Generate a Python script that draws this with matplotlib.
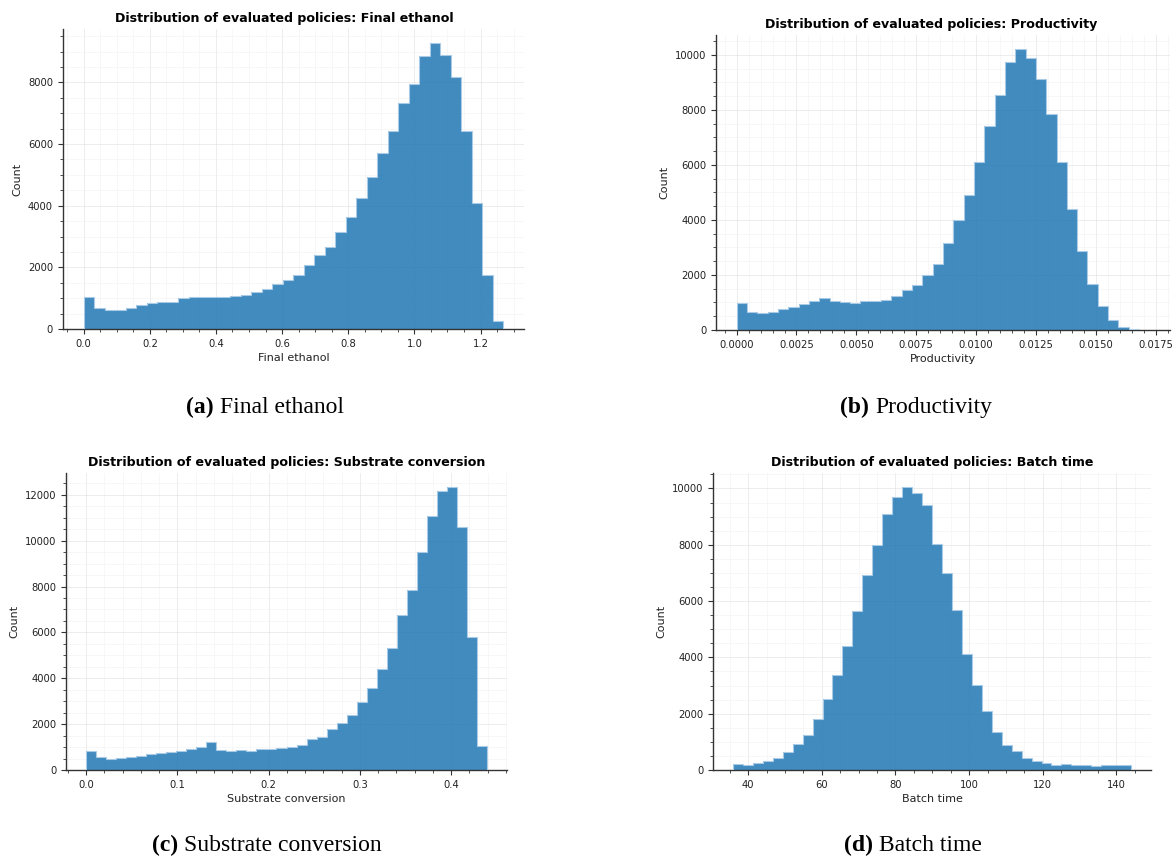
import matplotlib
matplotlib.use("Agg")
import matplotlib.pyplot as plt
import numpy as np

# Bin counts (40 bins each)
ethanol_range = (0.0, 1.268)
ethanol_counts = [1040, 672, 629, 629, 672, 780, 845, 867, 889, 1019,
                  1051, 1051, 1030, 1050, 1084, 1117, 1203, 1290, 1463, 1593,
                  1767, 2081, 2396, 2656, 3154, 3631, 4260, 4943, 5702, 6417,
                  7328, 7946, 8856, 9268, 8889, 8173, 6417, 4076, 1767, 249]

productivity_range = (0.0, 0.01724)
productivity_counts = [972, 656, 620, 668, 753, 838, 936, 1045, 1154, 1057,
                       1033, 996, 1045, 1057, 1081, 1239, 1470, 1628, 1993, 2406,
                       3147, 4010, 4897, 6087, 7400, 8530, 9720, 10207, 9866, 9113,
                       7861, 6112, 4399, 2880, 1677, 875, 352, 122, 25, 10]

conversion_range = (0.0, 0.4392)
conversion_counts = [846, 554, 467, 510, 554, 612, 700, 729, 787, 831,
                     933, 992, 1225, 890, 846, 875, 846, 904, 919, 977,
                     992, 1108, 1342, 1458, 1808, 2071, 2406, 2960, 3558, 4389,
                     5322, 6780, 7830, 9522, 11097, 12176, 12336, 10601, 5818, 1050]

batch_range = (35.84, 144.0)
batch_counts = [214, 190, 238, 309, 428, 630, 916, 1237, 1807, 2533,
                3365, 4388, 5660, 6932, 8002, 9084, 9703, 10048, 9845, 9405,
                8038, 7004, 5696, 4114, 3020, 2093, 1367, 904, 666, 416,
                309, 250, 190, 202, 166, 166, 143, 166, 178, 166]

PANELS = [
    {"name": "Final ethanol", "tag": "(a)", "range": ethanol_range, "counts": ethanol_counts,
     "rect": (62.7, 29, 524, 329), "caption": (265, 413), "title_x": 0.48},
    {"name": "Productivity", "tag": "(b)", "range": productivity_range, "counts": productivity_counts,
     "rect": (716, 35, 1170, 330), "caption": (916, 413), "title_x": 0.474},
    {"name": "Substrate conversion", "tag": "(c)", "range": conversion_range, "counts": conversion_counts,
     "rect": (66, 473, 507, 770), "caption": (267, 851), "title_x": 0.5},
    {"name": "Batch time", "tag": "(d)", "range": batch_range, "counts": batch_counts,
     "rect": (713, 473, 1151, 770), "caption": (913, 851), "title_x": 0.5},
]

W, H = 1174, 856
fig = plt.figure(figsize=(W / 100, H / 100), dpi=100)
renderer = fig.canvas.get_renderer()

for p in PANELS:
    x0, y0, x1, y1 = p["rect"]
    ax = fig.add_axes([x0 / W, 1 - y1 / H, (x1 - x0) / W, (y1 - y0) / H])
    counts = np.array(p["counts"])
    edges = np.linspace(p["range"][0], p["range"][1], len(counts) + 1)
    # filled histogram + light step outline
    ax.stairs(counts, edges, fill=True, color="#1f77b4", alpha=0.85, linewidth=0, zorder=2)
    ax.stairs(counts, edges, color="#a9cbe6", linewidth=0.8, zorder=3)
    ax.set_ylim(0, max(counts) * 1.05)

    ax.minorticks_on()
    ax.grid(True, which="major", color="#dddddd", linewidth=0.6, alpha=0.6, zorder=0)
    ax.grid(True, which="minor", color="#eeeeee", linewidth=0.5, alpha=0.6, zorder=0)
    ax.set_axisbelow(True)
    for side in ["top", "right"]:
        ax.spines[side].set_visible(False)
    for side in ["left", "bottom"]:
        ax.spines[side].set_color("#333333")
        ax.spines[side].set_linewidth(1.0)
    ax.tick_params(which="major", length=3.5, width=0.8, colors="#333333", labelsize=7.2,
                   labelcolor="#222222")
    ax.tick_params(which="minor", length=2, width=0.6, colors="#333333")

    ax.set_xlabel(p["name"], fontsize=8, color="#222222", labelpad=3)
    ax.set_ylabel("Count", fontsize=8, color="#222222", labelpad=4)
    ax.set_title(f"Distribution of evaluated policies: {p['name']}",
                 fontsize=9.1, fontweight="bold", pad=5, x=p["title_x"])

    # subfigure caption: bold tag + normal name, centred as a whole
    cx, cy = p["caption"]
    t1 = fig.text(0, 1 - cy / H, p["tag"] + " ", fontsize=17, family="Liberation Serif",
                  fontweight="bold", ha="left", va="baseline")
    t2 = fig.text(0, 1 - cy / H, p["name"], fontsize=17, family="Liberation Serif",
                  ha="left", va="baseline")
    w1 = t1.get_window_extent(renderer).width
    w2 = t2.get_window_extent(renderer).width
    left = cx - (w1 + w2) / 2
    t1.set_x(left / W)
    t2.set_x((left + w1) / W)

fig.savefig("out.png", dpi=100, facecolor="white")
